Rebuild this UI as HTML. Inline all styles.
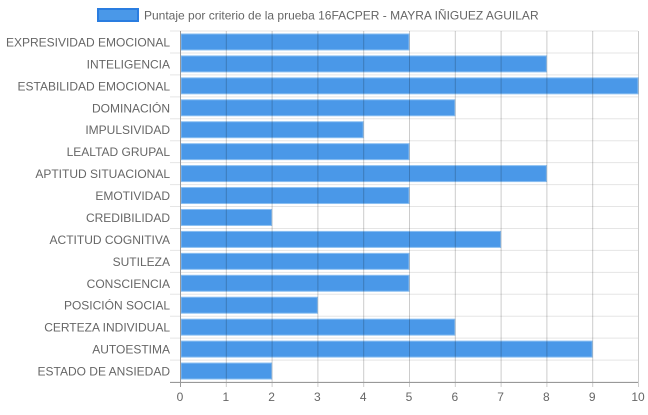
<!DOCTYPE html>
<html><head><meta charset="utf-8"><style>
body{margin:0;background:#fff;width:648px;height:410px;overflow:hidden;font-family:"Liberation Sans",sans-serif}
</style></head><body>
<svg id="chart" width="648" height="410" xmlns="http://www.w3.org/2000/svg" font-family="Liberation Sans, sans-serif"></svg>
<script>
const categories=["EXPRESIVIDAD EMOCIONAL","INTELIGENCIA","ESTABILIDAD EMOCIONAL","DOMINACIÓN","IMPULSIVIDAD","LEALTAD GRUPAL","APTITUD SITUACIONAL","EMOTIVIDAD","CREDIBILIDAD","ACTITUD COGNITIVA","SUTILEZA","CONSCIENCIA","POSICIÓN SOCIAL","CERTEZA INDIVIDUAL","AUTOESTIMA","ESTADO DE ANSIEDAD"];
const values=[5,8,10,6,4,5,8,5,2,7,5,5,3,6,9,2];
const ticks=[0,1,2,3,4,5,6,7,8,9,10];
const seriesLabel="Puntaje por criterio de la prueba 16FACPER - MAYRA IÑIGUEZ AGUILAR";
const svg=document.getElementById('chart');
const NS="http://www.w3.org/2000/svg";
const L=180,R=638,T=31,B=382;
const band=(B-T)/categories.length;
const x=v=>L+(v-0)/(10-0)*(R-L);
const y=i=>T+i*band;
function mk(tag,attrs,parent){const e=document.createElementNS(NS,tag);for(const k in attrs)e.setAttribute(k,attrs[k]);(parent||svg).appendChild(e);return e;}
// legend
const lg=mk('g',{});


const lb=mk('rect',{x:98,y:9,width:40,height:12,fill:'#4a98e8',stroke:'#2a7de0','stroke-width':2},lg);


const lt=mk('text',{x:144,y:19.5,'font-size':12,fill:'#666'},lg);
lt.textContent=seriesLabel;


// horizontal row separators
for(let i=0;i<=categories.length;i++){
 const ln=mk('line',{x1:170,x2:R,y1:y(i),y2:y(i),stroke:'#e5e5e5','stroke-width':1});
 
 
}
// bars
categories.forEach((c,i)=>{
 const bh=16;
 const r=mk('rect',{x:x(0)+1,y:y(i)+band/2-bh/2,width:x(values[i])-x(0)-1,height:bh,fill:'#4a98e8',stroke:'#8cc0f2','stroke-width':1});
 
 
 const t=mk('text',{x:170,y:y(i)+band/2+4.5,'font-size':12,fill:'#666','text-anchor':'end'});
 t.textContent=c;
 
 
});
// vertical gridlines
ticks.forEach(v=>{
 const g=mk('line',{x1:x(v)+0.5,x2:x(v)+0.5,y1:T,y2:B+5,stroke:v===0?'#999':'rgba(0,0,0,0.2)','stroke-width':1});
 
 
 const t=mk('text',{x:x(v),y:B+19,'font-size':12,fill:'#666','text-anchor':'middle'});
 t.textContent=v;
 
 
});
const ax=mk('line',{x1:170,x2:R,y1:B+0.5,y2:B+0.5,stroke:'#999','stroke-width':1});


</script>
</body></html>
